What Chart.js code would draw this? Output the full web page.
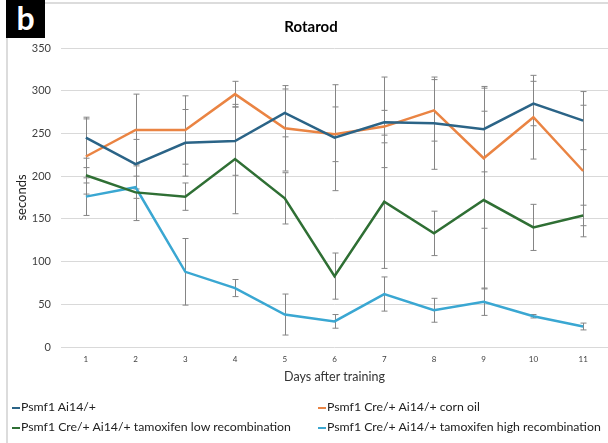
<!DOCTYPE html>
<html>
<head>
<meta charset="utf-8">
<script src="https://cdn.jsdelivr.net/npm/chart.js@4.4.1/dist/chart.umd.min.js"></script>
<style>
  body { margin: 0; background: #fff; font-family: Lato, "Open Sans", sans-serif; }
  #wrap { position: relative; width: 608px; height: 443px; overflow: hidden; }
  #frame { position: absolute; left: 6px; top: 2px; width: 620px; height: 460px; border: 2px solid #dcdcdc; }
  #panel { position: absolute; left: 6px; top: 0; width: 39px; height: 38px; background: #000; color: #fff;
           font: bold 32px Lato, sans-serif; text-align: center; line-height: 36px; }
  canvas { position: absolute; left: 0; top: 0; }
  .leg { position: absolute; font-size: 12.3px; color: #222; white-space: nowrap; line-height: 16px; }
  .leg span { display: inline-block; width: 8px; height: 2px; vertical-align: middle; margin-right: 1px; }
</style>
</head>
<body>
<div id="wrap">
  <div id="frame"></div>
  <canvas id="chart" width="608" height="443"></canvas>
  <div id="panel">b</div>
  <div id="legend"></div>
</div>
<script>
// days after training
let days = ['1', '2', '3', '4', '5', '6', '7', '8', '9', '10', '11'];

// mean time on rod (seconds) and error bar half-widths
let ai14 = [245, 214, 239, 241, 274, 245, 263, 262, 255, 285, 265];
let ai14Err = [24, 29, 39, 40, 28, 62, 53, 54, 50, 26, 34];
let cornOil = [223, 254, 254, 296, 256, 249, 258, 277, 221, 269, 206];
let cornOilErr = [44, 42, 40, 15, 50, 32, 19, 36, 82, 49, 77];
let tamLow = [201, 181, 176, 220, 174, 83, 170, 133, 172, 140, 154];
let tamLowErr = [9, 33, 16, 64, 30, 27, 78, 26, 104, 27, 12];
let tamHigh = [176, 187, 88, 69, 38, 30, 62, 43, 53, 36, 24];
let tamHighErr = [22, 13, 39, 10, 24, 8, 20, 14, 16, 2, 4];

let names = [
  'Psmf1 Ai14/+',
  'Psmf1 Cre/+ Ai14/+ corn oil',
  'Psmf1 Cre/+ Ai14/+ tamoxifen low recombination',
  'Psmf1 Cre/+ Ai14/+ tamoxifen high recombination'
];
let colors = ['#2b6487', '#ea8443', '#2f6f34', '#3aa7d2'];

let font = 'Lato, "Open Sans", sans-serif';

// gray error bars drawn under the lines
const errorBars = {
  id: 'errorBars',
  beforeDatasetsDraw(chart) {
    const ctx = chart.ctx;
    const x = chart.scales.x, y = chart.scales.y;
    ctx.save();
    ctx.strokeStyle = '#858585';
    ctx.lineWidth = 1;
    chart.data.datasets.forEach(ds => {
      ds.errors.forEach((e, i) => {
        const px = Math.round(x.getPixelForValue(i)) + 0.5;
        const top = y.getPixelForValue(ds.data[i] + e);
        const bot = y.getPixelForValue(ds.data[i] - e);
        ctx.beginPath();
        ctx.moveTo(px, top); ctx.lineTo(px, bot);
        ctx.moveTo(px - 3, top); ctx.lineTo(px + 3, top);
        ctx.moveTo(px - 3, bot); ctx.lineTo(px + 3, bot);
        ctx.stroke();
      });
    });
    ctx.restore();
  }
};

let series = [ai14, cornOil, tamLow, tamHigh];
let errs = [ai14Err, cornOilErr, tamLowErr, tamHighErr];

let chartdata = {
  labels: days,
  datasets: series.map((d, i) => ({
    label: names[i],
    data: d,
    errors: errs[i],
    borderColor: colors[i],
    backgroundColor: colors[i],
    borderWidth: 2.5,
    pointRadius: 0,
    tension: 0
  }))
};

new Chart(document.getElementById('chart'), {
  type: 'line',
  data: chartdata,
  plugins: [errorBars],
  options: {
    responsive: false,
    animation: false,
    layout: { padding: { left: 14, right: 0, top: 0, bottom: 59 } },
    plugins: {
      legend: { display: false },
      tooltip: { enabled: false },
      title: {
        display: true,
        text: 'Rotarod',
        color: '#000',
        font: { family: font, size: 15, weight: 'bold' },
        padding: { top: 18, bottom: 12 }
      }
    },
    scales: {
      x: {
        offset: true,
        afterFit: s => { s.height = 37; },
        grid: { display: false, drawTicks: false },
        border: { display: false },
        ticks: { color: '#404040', font: { family: font, size: 8 }, padding: 8, maxRotation: 0 },
        title: { display: true, text: 'Days after training', color: '#333',
                 font: { family: font, size: 12.5 }, padding: { top: 0, bottom: 0 } }
      },
      y: {
        min: 0,
        max: 350,
        afterFit: s => { s.width = 47; },
        grid: { color: '#d9d9d9', drawTicks: false },
        border: { display: false },
        ticks: { stepSize: 50, color: '#404040', font: { family: font, size: 11 }, padding: 10 },
        title: { display: true, text: 'seconds', color: '#222',
                 font: { family: font, size: 13 }, padding: { top: 0, bottom: 0 } }
      }
    }
  }
});

// two-column legend under the axis
let legendPos = [[12, 399], [318, 399], [12, 419], [318, 419]];
let legend = document.getElementById('legend');
names.forEach((n, i) => {
  let item = document.createElement('div');
  item.className = 'leg';
  item.style.left = legendPos[i][0] + 'px';
  item.style.top = legendPos[i][1] + 'px';
  item.innerHTML = '<span style="background:' + colors[i] + '"></span>' + n;
  legend.appendChild(item);
});
</script>
</body>
</html>
